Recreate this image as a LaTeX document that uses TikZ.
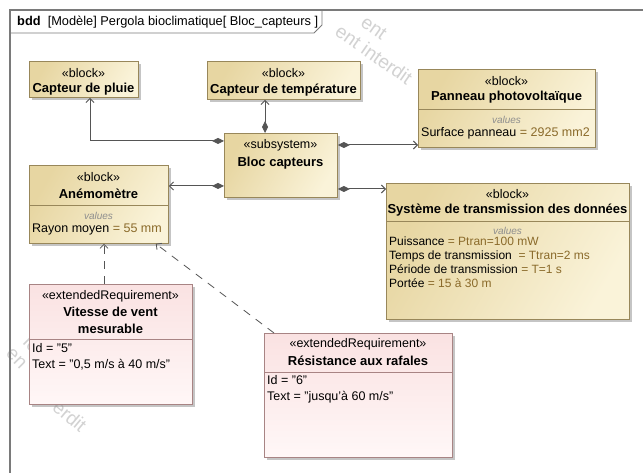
\documentclass[tikz,border=0pt]{standalone}
\usepackage{fontspec}
\setmainfont{Liberation Sans}
\usetikzlibrary{positioning,shadows,arrows.meta}

\definecolor{blkline}{HTML}{98875A}
\definecolor{blkdark}{HTML}{E7D6A2}
\definecolor{blklight}{HTML}{FAF3D9}
\definecolor{reqline}{HTML}{A88484}
\definecolor{reqdark}{HTML}{FAE2E2}
\definecolor{reqlight}{HTML}{FFF7F7}
\definecolor{linegray}{HTML}{555555}
\definecolor{valgray}{HTML}{8E8E8E}
\definecolor{valbrown}{HTML}{8A6A2A}
\definecolor{framegray}{HTML}{7A7A7A}

\begin{document}
\begin{tikzpicture}[x=1pt,y=-1pt,
  blk/.style={draw=blkline,line width=.8pt,left color=blkdark,right color=blklight,shading angle=60,
    drop shadow={shadow xshift=2.5pt,shadow yshift=-2.5pt,fill=black!45,opacity=.5},anchor=north west,inner sep=0pt},
  req/.style={draw=reqline,line width=.8pt,top color=reqdark,bottom color=reqlight,
    drop shadow={shadow xshift=2.5pt,shadow yshift=-2.5pt,fill=black!45,opacity=.5},anchor=north west,inner sep=0pt},
  ster/.style={inner sep=0pt,font=\fontsize{12.5}{14}\selectfont},
  nm/.style={inner sep=0pt,align=center,font=\bfseries\fontsize{13}{17}\selectfont},
  vals/.style={inner sep=0pt,font=\itshape\fontsize{10}{11}\selectfont,text=valgray},
  attr/.style={inner sep=0pt,anchor=west,align=left,font=\fontsize{12}{14}\selectfont},
  comp/.style={draw=linegray,line width=1pt,{Diamond[length=12pt,width=6pt]}-{Straight Barb[length=4pt,width=8pt]}},
  dep/.style={draw=linegray,line width=.8pt,dash pattern=on 8pt off 7pt,-{Straight Barb[length=4pt,width=8pt]}},
  wmark/.style={text=gray!35,align=left,inner sep=0pt,font=\fontsize{19}{22}\selectfont}]

\useasboundingbox (0,0) rectangle (643,473);
\fill[white] (0,0) rectangle (643,473);

% watermark
\node[wmark,rotate=-35] (wm1) at (380,46) {\hspace{16pt}ent\\ent interdit};
\node[wmark,rotate=-45] (wm2) at (26,352) {le\\[-2pt]\hspace{-4pt}en};
\node[wmark,rotate=-40] (wm3) at (70,416) {erdit};

% frame
\draw[framegray,line width=1.1pt] (10,473) -- (10,10) -- (643,10);
\draw[framegray,line width=.8pt] (10,33) -- (314,33) -- (322,25) -- (322,10);
\node[anchor=west,inner sep=0pt,font=\fontsize{12.8}{14}\selectfont] (title) at (17,22)
  {\textbf{bdd}\ \ [Modèle] Pergola bioclimatique[ Bloc\_capteurs ]};

% blocks
\node[blk,minimum width=109,minimum height=36] (pluie) at (29,61) {};
\node[ster] (pluie-s) at (83.5,73) {«block»};
\node[nm] (pluie-n) at (83.5,89) {Capteur de pluie};

\node[blk,minimum width=153,minimum height=38] (temp) at (207,61) {};
\node[ster] (temp-s) at (283.5,73) {«block»};
\node[nm] (temp-n) at (283.5,90) {Capteur de température};

\node[blk,minimum width=177,minimum height=78] (panneau) at (418,69) {};
\draw[blkline,line width=.8pt] (418,109) -- (595,109);
\node[ster] (panneau-s) at (506.5,81) {«block»};
\node[nm] (panneau-n) at (506.5,97) {Panneau photovoltaïque};
\node[vals] (panneau-v) at (506.5,120) {values};
\node[attr,font=\fontsize{12.5}{14}\selectfont] (panneau-a) at (421,133) {Surface panneau \textcolor{valbrown}{= 2925 mm2}};

\node[blk,minimum width=113,minimum height=64] (bloc) at (224,133) {};
\node[ster] (bloc-s) at (280.5,145) {«subsystem»};
\node[nm] (bloc-n) at (280.5,163) {Bloc capteurs};

\node[blk,minimum width=139,minimum height=78] (anemo) at (29,165) {};
\draw[blkline,line width=.8pt] (29,205) -- (168,205);
\node[ster] (anemo-s) at (98.5,177) {«block»};
\node[nm] (anemo-n) at (98.5,194) {Anémomètre};
\node[vals] (anemo-v) at (98.5,216) {values};
\node[attr,font=\fontsize{12.5}{14}\selectfont] (anemo-a) at (32,229) {Rayon moyen \textcolor{valbrown}{= 55 mm}};

\node[blk,minimum width=243,minimum height=136] (systeme) at (386,183) {};
\draw[blkline,line width=.8pt] (386,221) -- (629,221);
\node[ster] (systeme-s) at (507.5,194) {«block»};
\node[nm] (systeme-n) at (507.5,210) {Système de transmission des données};
\node[vals] (systeme-v) at (507.5,231) {values};
\node[attr,anchor=north west] (systeme-a) at (389,237) {Puissance \textcolor{valbrown}{= Ptran=100 mW}\\
  Temps de transmission \ \textcolor{valbrown}{= Ttran=2 ms}\\
  Période de transmission \textcolor{valbrown}{= T=1 s}\\
  Portée \textcolor{valbrown}{= 15 à 30 m}};

% requirements
\node[req,minimum width=163,minimum height=120] (vitesse) at (29,284) {};
\draw[reqline,line width=.8pt] (29,339) -- (192,339);
\node[ster] (vitesse-s) at (110.5,296) {«extendedRequirement»};
\node[nm] (vitesse-n) at (110.5,320) {Vitesse de vent\\mesurable};
\node[attr,anchor=north west,font=\fontsize{12.5}{16}\selectfont] (vitesse-a) at (32,343)
  {Id = "5"\\Text = "0,5 m/s à 40 m/s"};

\node[req,minimum width=188,minimum height=124] (resist) at (264,333) {};
\draw[reqline,line width=.8pt] (264,372) -- (452,372);
\node[ster] (resist-s) at (358,344) {«extendedRequirement»};
\node[nm] (resist-n) at (358,361) {Résistance aux rafales};
\node[attr,anchor=north west,font=\fontsize{12.5}{16}\selectfont] (resist-a) at (267,375)
  {Id = "6"\\Text = "jusqu'à 60 m/s"};

% connectors
\coordinate (pl) at (90,141);
\coordinate (tx) at (265,0);
\coordinate (py) at (0,145);
\coordinate (ay) at (0,186);
\coordinate (sy) at (0,189);
\coordinate (vx) at (104,0);

\draw[comp] (bloc.west |- pl) -| (pluie.south -| pl);
\draw[comp] (bloc.north -| tx) -- (temp.south -| tx);
\draw[comp] (bloc.east |- py) -- (panneau.west |- py);
\draw[comp] (bloc.west |- ay) -- (anemo.east |- ay);
\draw[comp] (bloc.east |- sy) -- (systeme.west |- sy);

\draw[dep] (vitesse.north -| vx) -- (anemo.south -| vx);
\draw[dep] ([xshift=10pt]resist.north west) -- ([xshift=-13pt]anemo.south east);

\end{tikzpicture}
\end{document}
